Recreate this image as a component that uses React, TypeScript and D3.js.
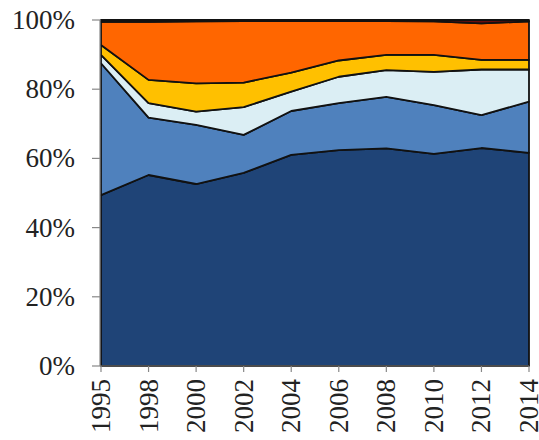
import React from "react";
import * as d3 from "d3";

const years = ["1995", "1998", "2000", "2002", "2004", "2006", "2008", "2010", "2012", "2014"];
const navy = [49.4, 55.2, 52.6, 55.8, 61.0, 62.4, 62.9, 61.3, 63.0, 61.6];
const mediumBlue = [38.1, 16.6, 17.1, 11.0, 12.7, 13.6, 14.9, 14.1, 9.5, 14.8];
const lightBlue = [2.4, 4.2, 3.8, 8.0, 5.6, 7.6, 7.7, 9.6, 13.2, 9.3];
const yellow = [2.9, 6.7, 8.2, 7.1, 5.5, 4.7, 4.4, 4.9, 2.8, 2.8];
const orange = [6.7, 16.8, 17.9, 17.8, 14.9, 11.4, 9.8, 9.7, 10.5, 11.1];
const darkRed = [0.5, 0.5, 0.4, 0.3, 0.3, 0.3, 0.3, 0.4, 1.0, 0.4];
const yTicks = [0, 0.2, 0.4, 0.6, 0.8, 1.0];

const seriesKeys = ["navy", "mediumBlue", "lightBlue", "yellow", "orange", "darkRed"];
const seriesValues: Record<string, number[]> = { navy, mediumBlue, lightBlue, yellow, orange, darkRed };
const colors: Record<string, string> = {
  navy: "#1f4477",
  mediumBlue: "#4f81bd",
  lightBlue: "#dbeef4",
  yellow: "#ffc000",
  orange: "#ff6600",
  darkRed: "#6b0d0d",
};

export default function App() {
  const W = 539, H = 440;
  const left = 100, right = 529, top = 20, bottom = 366;
  const x = d3.scalePoint<string>().domain(years).range([left + 1, right]);
  const y = d3.scaleLinear().domain([0, 1]).range([bottom, top]);

  const rows = years.map((yr, i) => {
    const r: any = { year: yr };
    seriesKeys.forEach((k) => (r[k] = seriesValues[k][i]));
    return r;
  });
  const stacked = d3.stack<any>().keys(seriesKeys).offset(d3.stackOffsetExpand)(rows);
  const area = d3
    .area<any>()
    .x((d) => x(d.data.year) as number)
    .y0((d) => y(d[0]))
    .y1((d) => y(d[1]));

  const font = "'Liberation Serif', 'Times New Roman', serif";

  return (
    <svg width={W} height={H} style={{ position: "absolute", left: 0, top: 0 }}>
      {stacked.map((s) => (
        <path key={s.key} d={area(s) as string} fill={colors[s.key]} stroke="#111" strokeWidth={1.8} strokeLinejoin="round" />
      ))}
      <line x1={left} x2={left} y1={top} y2={bottom} stroke="#888" strokeWidth={1.2} />
      <line x1={left} x2={right} y1={bottom} y2={bottom} stroke="#888" strokeWidth={1.2} />
      {yTicks.map((t) => (
        <g key={t}>
          <line x1={left - 8} x2={left} y1={y(t)} y2={y(t)} stroke="#888" strokeWidth={1.2} />
          <text x={75} y={y(t)} textAnchor="end" dominantBaseline="central" fontFamily={font} fontSize={27} fill="#222">
            {d3.format(".0%")(t)}
          </text>
        </g>
      ))}
      {years.map((yr) => (
        <g key={yr}>
          <line x1={x(yr)} x2={x(yr)} y1={bottom} y2={bottom + 6} stroke="#888" strokeWidth={1.2} />
          <text
            transform={`translate(${x(yr)},${bottom + 13}) rotate(-90)`}
            textAnchor="end"
            dominantBaseline="central"
            fontFamily={font}
            fontSize={27}
            fill="#222"
          >
            {yr}
          </text>
        </g>
      ))}
    </svg>
  );
}
